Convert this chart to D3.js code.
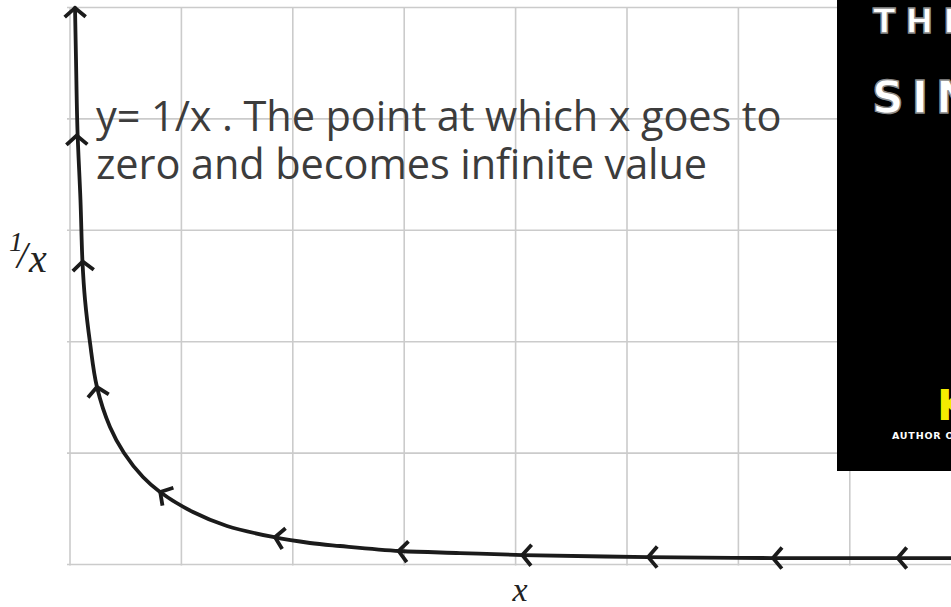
<!DOCTYPE html>
<html>
<head>
<meta charset="utf-8">
<script src="https://cdn.jsdelivr.net/npm/d3@7/dist/d3.min.js"></script>
<style>
body { margin: 0; background: #fff; }
</style>
</head>
<body>
<div class="container"></div>
<script>
"use strict";

//curve y = 1/x, in grid cells
const curveX = [0.045, 0.054, 0.067, 0.094, 0.112, 0.135, 0.180, 0.242, 0.359, 0.485, 0.655, 0.808, 1.104, 1.409, 1.822, 2.154, 2.424, 2.962, 3.501, 4.066, 5.189, 6.311, 7.433, 8.0]
const curveY = [4.996, 4.529, 3.90, 3.272, 2.716, 2.374, 1.988, 1.593, 1.234, 1.001, 0.785, 0.651, 0.471, 0.346, 0.247, 0.193, 0.166, 0.121, 0.103, 0.085, 0.067, 0.058, 0.058, 0.058]

//arrow heads sitting on the curve (they point back towards x = 0)
const arrowX = [0.045, 0.06, 0.114, 0.242, 0.81, 1.84, 2.95, 4.06, 5.19, 6.31, 7.43]
const arrowY = [4.996, 3.85, 2.72, 1.593, 0.651, 0.245, 0.121, 0.085, 0.067, 0.058, 0.058]

//grid lines
const gridX = [0, 1, 2, 3, 4, 5, 6, 7, 8]
const gridY = [0, 1, 2, 3, 4, 5]

//labels
const note = ['y= 1/x . The point at which x goes to', 'zero and becomes infinite value']
const xLabel = 'x'
const coverLines = ['THE', 'SINGULARITY', 'KURZWEIL', 'AUTHOR OF THE AGE OF SPIRITUAL MACHINES']

//the p(properties) of the svg
const p = {
	svgWidth: 951,
	svgHeight: 607,
	left: 70,
	bottom: 564.5,
	cell: 111.4
}

const svg = d3.select('.container')
	.append('svg')
	.attr('width', p.svgWidth)
	.attr('height', p.svgHeight)
	.style('display', 'block')

const x = d3.scaleLinear().domain([0, 8]).range([p.left, p.left + 8 * p.cell])
const y = d3.scaleLinear().domain([0, 5]).range([p.bottom, p.bottom - 5 * p.cell])

//grid
svg.append('g').selectAll('line')
	.data(gridY)
	.join('line')
	.attr('x1', 67)
	.attr('x2', p.svgWidth)
	.attr('y1', d => y(d))
	.attr('y2', d => y(d))
	.attr('stroke', '#cbcbcb')
	.attr('stroke-width', 1.6)

svg.append('g').selectAll('line')
	.data(gridX)
	.join('line')
	.attr('x1', d => x(d))
	.attr('x2', d => x(d))
	.attr('y1', y(5))
	.attr('y2', y(0) + 1)
	.attr('stroke', '#cbcbcb')
	.attr('stroke-width', 1.6)

//the curve itself
const pts = curveX.map((d, i) => [d, curveY[i]])
const line = d3.line()
	.x(d => x(d[0]))
	.y(d => y(d[1]))
	.curve(d3.curveCatmullRom.alpha(0.5))

svg.append('path')
	.datum(pts)
	.attr('d', line)
	.attr('fill', 'none')
	.attr('stroke', '#1b1b1b')
	.attr('stroke-width', 3.8)
	.attr('stroke-linecap', 'round')

//arrow heads, turned along the curve (direction of travel is towards smaller x)
function tangent(ax) {
	let j = 0
	while (j < curveX.length - 2 && curveX[j + 1] < ax) j++
	const dx = x(curveX[j]) - x(curveX[j + 1])
	const dy = y(curveY[j]) - y(curveY[j + 1])
	return Math.atan2(dy, dx) * 180 / Math.PI
}

svg.append('g').selectAll('path')
	.data(arrowX)
	.join('path')
	.attr('d', 'M-9,-10.5L0,0L-9,10.5')
	.attr('transform', (d, i) => 'translate(' + x(d) + ',' + y(arrowY[i]) + ') rotate(' + tangent(d) + ')')
	.attr('fill', 'none')
	.attr('stroke', '#1b1b1b')
	.attr('stroke-width', 3.8)

//annotation
svg.append('g').selectAll('text')
	.data(note)
	.join('text')
	.attr('x', 96)
	.attr('y', (d, i) => 131 + i * 48)
	.attr('fill', '#3c3c3c')
	.style('font-family', '"Open Sans", sans-serif')
	.style('font-size', '41.5px')
	.style('letter-spacing', '-0.1px')
	.text(d => d)

//axis labels, 1/x written as a slanted fraction
const serif = '"Liberation Serif", "DejaVu Serif", serif'
svg.append('text')
	.attr('x', 9)
	.attr('y', 251)
	.attr('fill', '#222')
	.style('font-family', serif)
	.style('font-style', 'italic')
	.style('font-size', '28px')
	.text('1')

svg.append('text')
	.attr('x', 17)
	.attr('y', 268)
	.attr('fill', '#222')
	.style('font-family', serif)
	.style('font-style', 'italic')
	.style('font-size', '38px')
	.text('/')

svg.append('text')
	.attr('x', 29)
	.attr('y', 272)
	.attr('fill', '#222')
	.style('font-family', serif)
	.style('font-style', 'italic')
	.style('font-size', '40px')
	.text('x')

svg.append('text')
	.attr('x', 520)
	.attr('y', 601)
	.attr('text-anchor', 'middle')
	.attr('fill', '#222')
	.style('font-family', serif)
	.style('font-style', 'italic')
	.style('font-size', '34px')
	.text(xLabel)

//book cover cut off at the right edge
svg.append('clipPath')
	.attr('id', 'coverClip')
	.append('rect')
	.attr('x', 837)
	.attr('y', 0)
	.attr('width', 114)
	.attr('height', 471)

const cover = svg.append('g').attr('clip-path', 'url(#coverClip)')

cover.append('rect')
	.attr('x', 837)
	.attr('y', 0)
	.attr('width', 114)
	.attr('height', 471)
	.attr('fill', '#000')

cover.append('text')
	.attr('x', 873)
	.attr('y', 33)
	.attr('fill', '#fff')
	.attr('stroke', '#8a8a8a')
	.attr('stroke-width', 1.4)
	.style('font-family', '"DejaVu Sans", sans-serif')
	.style('font-weight', 'bold')
	.style('font-size', '33px')
	.style('letter-spacing', '10px')
	.text(coverLines[0])

cover.append('text')
	.attr('x', 872)
	.attr('y', 113)
	.attr('fill', '#fff')
	.attr('stroke', '#8a8a8a')
	.attr('stroke-width', 1.4)
	.style('font-family', '"DejaVu Sans", sans-serif')
	.style('font-weight', 'bold')
	.style('font-size', '44px')
	.style('letter-spacing', '8px')
	.text(coverLines[1])

cover.append('text')
	.attr('x', 937)
	.attr('y', 420)
	.attr('fill', '#f5ec00')
	.style('font-family', '"DejaVu Sans", sans-serif')
	.style('font-weight', 'bold')
	.style('font-size', '42px')
	.text(coverLines[2])

cover.append('text')
	.attr('x', 892)
	.attr('y', 439)
	.attr('fill', '#fff')
	.style('font-family', '"DejaVu Sans", sans-serif')
	.style('font-weight', 'bold')
	.style('font-size', '9.5px')
	.style('letter-spacing', '0.8px')
	.text(coverLines[3])
</script>
</body>
</html>
